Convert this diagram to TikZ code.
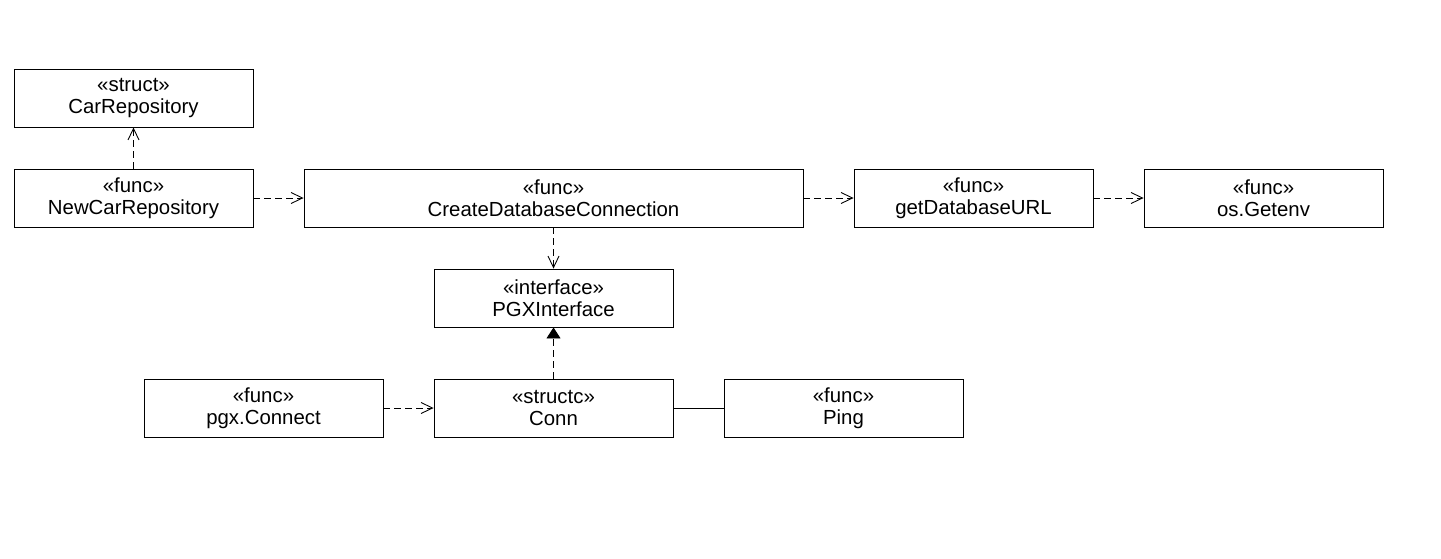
\documentclass[tikz,border=0pt]{standalone}
\usepackage{fontspec}
\setmainfont{Liberation Sans}
\usetikzlibrary{arrows.meta}

\tikzset{
    umlbox/.style={draw, line width=0.5pt, minimum width=4.78cm, minimum height=1.16cm,
        align=center, inner sep=0pt, font=\fontsize{11.6}{12.4}\selectfont},
    depend/.style={draw, line width=0.5pt, dash pattern=on 0.13cm off 0.09cm,
        -{Straight Barb[length=0.23cm, width=0.22cm]}},
    realize/.style={draw, line width=0.5pt, dash pattern=on 0.13cm off 0.09cm,
        -{Triangle[length=0.22cm, width=0.28cm]}}
}

\begin{document}
\begin{tikzpicture}

\useasboundingbox (0,0) rectangle (28.82,-11.16);

\node [umlbox] (carrepo) at (2.67,-1.96) {«struct»\\CarRepository};
\node [umlbox] (newcarrepo) at (2.67,-3.96) {«func»\\NewCarRepository};
\node [umlbox, minimum width=9.98cm] (createdb) at (11.07,-3.96) {«func»\\CreateDatabaseConnection};
\node [umlbox] (getdburl) at (19.47,-3.96) {«func»\\getDatabaseURL};
\node [umlbox] (getenv) at (25.27,-3.96) {«func»\\os.Getenv};
\node [umlbox] (pgxiface) at (11.07,-5.96) {«interface»\\PGXInterface};
\node [umlbox] (pgxconnect) at (5.27,-8.16) {«func»\\pgx.Connect};
\node [umlbox] (conn) at (11.07,-8.16) {«structc»\\Conn};
\node [umlbox] (ping) at (16.87,-8.16) {«func»\\Ping};

\draw [depend] (newcarrepo) -- (carrepo);
\draw [depend] (newcarrepo) -- (createdb);
\draw [depend] (createdb) -- (getdburl);
\draw [depend] (getdburl) -- (getenv);
\draw [depend] (createdb) -- (pgxiface);
\draw [realize] (conn) -- (pgxiface);
\draw [depend] (pgxconnect) -- (conn);
\draw [line width=0.5pt] (conn) -- (ping);

\end{tikzpicture}
\end{document}
